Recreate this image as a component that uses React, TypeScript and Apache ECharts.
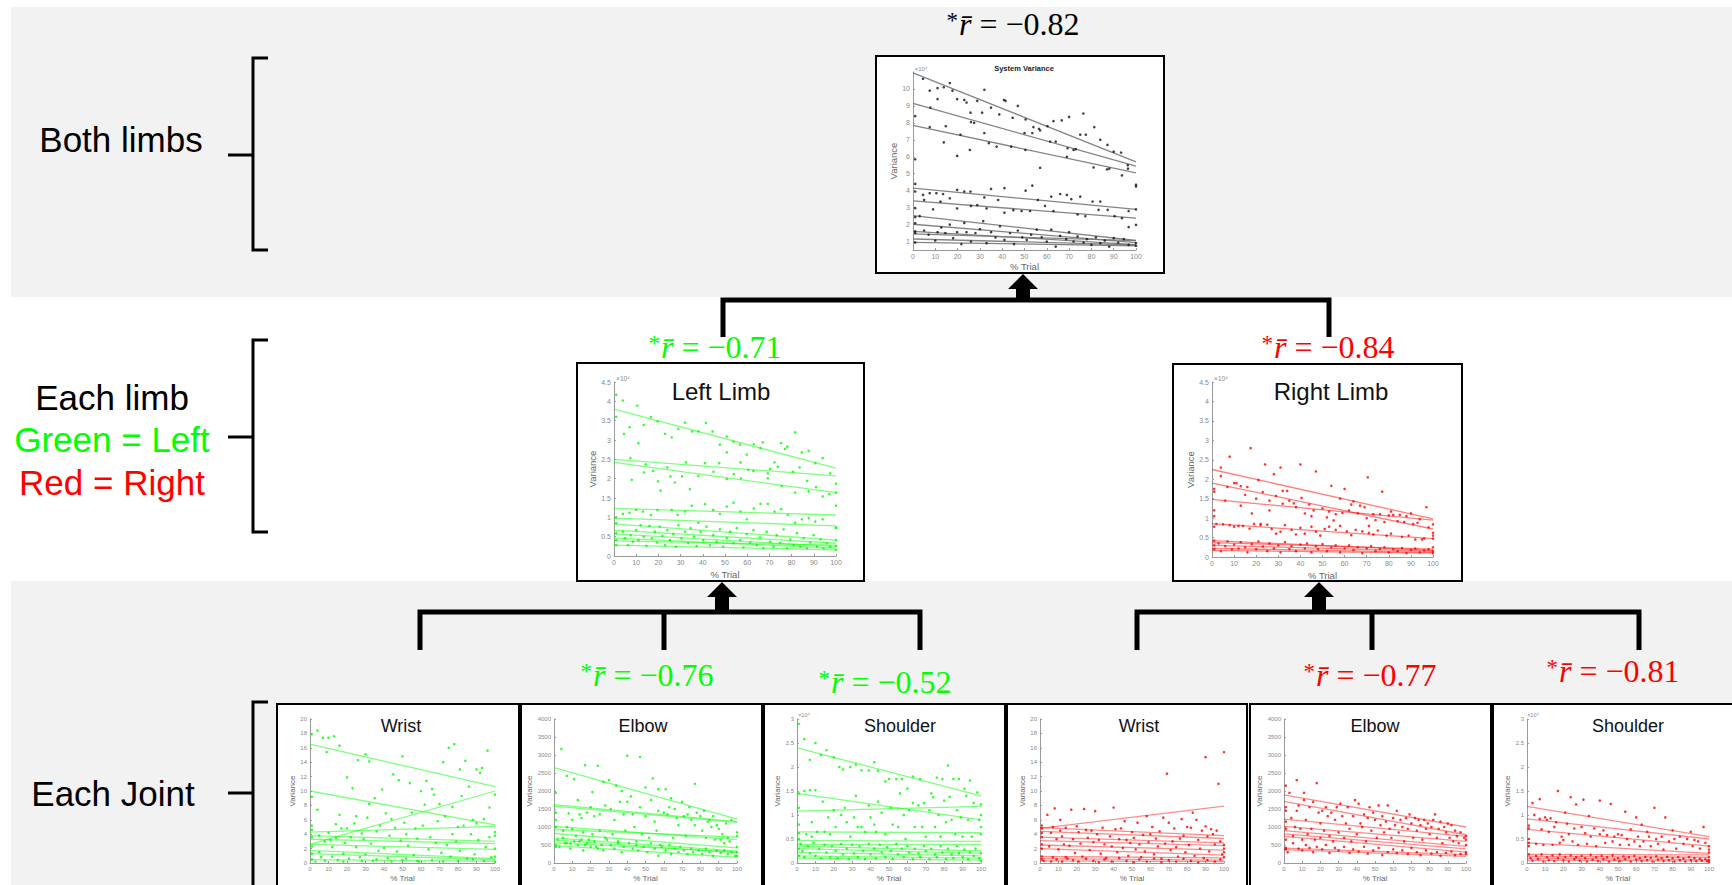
import React, { useEffect, useRef } from "react";
import * as echarts from "echarts";

// ---------- DATA (x = % trial, y = variance) ----------
const SYSTEM_Y_TICKS = [1, 2, 3, 4, 5, 6, 7, 8, 9, 10];

// regression lines: [value at 0 %, value at 100 %]
const SYSTEM_LINES = [[10.95, 5.7], [9.15, 5.45], [7.85, 5.05], [4.15, 2.9], [3.4, 2.38], [2.53, 1.06], [2.02, 0.94], [1.6, 0.82], [1.45, 1.05], [1.15, 0.8], [0.95, 0.75]];
const SYSTEM_PTS = [
  [4.5, 10.6], [7.5, 9.9], [11, 10.05], [13.8, 10.1], [16.5, 10.35], [17.7, 9.9], [11, 9.4], [7.8, 8.9], [19.8, 9.4], [23, 9.35], [24, 9.2], [25.8, 8.6], [27.4, 8.0], [28.8, 9.3], [32, 9.95], [31, 8.6], [35, 8.9], [38.7, 8.5], [40.8, 9.35], [41.5, 9.3], [44.7, 8.3], [47, 9.0], [50.5, 8.2], [54, 7.75], [56.5, 7.65], [60.3, 7.8], [63, 8.1], [66.7, 8.15], [70, 8.35], [76.4, 8.55], [81.3, 7.75], [84, 7.0], [87.2, 6.7], [90, 6.3], [93.3, 6.25], [96.3, 5.5], [96.4, 5.3], [93.7, 4.9], [87, 5.25], [81, 5.37], [77.5, 7.3], [75, 7.3], [73, 6.45], [69.3, 6.5], [69, 6.0], [61.5, 6.9], [57, 5.35], [57, 7.55], [50, 7.4], [50.4, 6.4], [44, 6.6], [37.5, 6.6], [34, 6.8], [32, 7.4], [26, 8.05], [21.3, 7.3], [19.8, 6.05], [14.7, 7.8], [13.8, 6.85], [7.5, 7.75], [1, 8.4], [1, 5.85], [25.5, 6.4], [53.5, 7.4], [64, 6.9], [72, 6.4], [88, 5.3],
  [1, 4.4], [1, 3.95], [4.5, 3.75], [7.5, 3.85], [10.5, 3.85], [13.5, 3.8], [19.8, 4.05], [23, 3.95], [25.8, 3.95], [32, 3.6], [35, 4.1], [41, 4.15], [50.5, 4.0], [53.5, 4.3], [62, 3.65], [66, 3.8], [69, 3.75], [71, 3.5], [75, 3.65], [80.5, 3.36], [84, 3.36], [96.7, 2.8], [100, 4.35], [100, 4.25], [100, 2.9], [5, 3.45], [9, 2.9], [12.3, 3.35], [16.5, 3.55], [19.8, 2.95], [26, 3.1], [28.8, 3.15], [33, 2.95], [38.2, 3.45], [41, 2.7], [45, 2.85], [48.7, 2.8], [52.5, 2.8], [56, 3.45], [59.2, 3.1], [63, 2.8], [73.8, 2.6], [77.3, 2.5], [83.2, 2.87], [87.3, 2.87], [90.4, 2.5], [93.7, 2.38], [96.7, 1.85], [100, 1.98], [1, 2.97], [1, 2.44], [3, 2.5],
  [1, 2.08], [1, 1.6], [1, 1.5], [1, 0.94], [5, 1.65], [7, 1.4], [10, 1.06], [11, 1.55], [12.7, 1.83], [14.5, 1.5], [16.5, 2.0], [18, 1.2], [19.8, 1.55], [21.7, 0.85], [23, 2.1], [24, 1.55], [26, 1.0], [28, 1.5], [30, 1.73], [31.5, 2.2], [33, 0.9], [35, 1.55], [37, 1.24], [39, 1.9], [41, 1.1], [43.5, 1.5], [45.3, 0.85], [47, 1.65], [49, 1.25], [51, 1.1], [53, 1.4], [55.5, 1.7], [57.7, 1.25], [60, 1.0], [62, 1.7], [64, 0.7], [66, 1.33], [68.7, 1.14], [70, 1.55], [72, 1.0], [73.8, 1.3], [76.5, 0.94], [78, 1.14], [80, 0.8], [82, 1.24], [84, 0.9], [86, 1.06], [88, 0.7], [90, 1.2], [92, 0.94], [94.5, 1.14], [96.7, 0.8], [100, 0.9], [100, 0.75]
];

const LEFT_LIMB_LINES = [[3.8, 2.27], [2.5, 2.07], [2.42, 1.64], [1.23, 1.06], [0.98, 0.78], [0.83, 0.41], [0.67, 0.33], [0.57, 0.24], [0.46, 0.2], [0.39, 0.28], [0.28, 0.16]];
const LEFT_LIMB_PTS = [
  [1, 4.17], [1, 3.6], [4, 4.02], [4.5, 3.16], [7, 3.33], [7.4, 2.53], [8, 1.97], [10.5, 3.89], [11, 2.92], [13.4, 3.39], [14.3, 2.37], [13.5, 2.16], [16.6, 3.59], [17.6, 2.2], [19.6, 3.48], [19.8, 1.93], [21, 1.69], [23, 3.16], [24, 2.29], [26, 3.07], [25.4, 2.06], [27.4, 1.9], [29, 3.29], [30.7, 2.06], [32, 3.45], [32.4, 2.42], [34.2, 1.73], [35.2, 3.22], [38, 3.22], [38, 2.07], [41, 2.4], [41.4, 3.44], [44.4, 3.22], [44.8, 2.18], [47.4, 2.4], [47.7, 2.88], [50.8, 3.09], [50.8, 2.68], [50.8, 1.99], [53.8, 2.96], [54, 2.12], [56.8, 2.88], [57, 2.42], [57.2, 2.01], [59.8, 2.62], [60.5, 2.23], [62.8, 2.2], [63, 2.89], [66, 2.79], [67, 2.94], [69.3, 2.14], [69.3, 2.01], [70.3, 2.25], [72.3, 2.42], [73.8, 2.31], [75.3, 2.92], [75.6, 1.81], [77, 2.77], [78, 2.83], [80.6, 2.18], [81.6, 3.2], [81.6, 1.64], [83.6, 2.29], [84.6, 2.68], [87, 1.94], [87.7, 2.72], [87.7, 1.67], [90.7, 2.4], [91, 1.78], [94, 2.53], [94, 1.54], [97, 1.6], [97.4, 2.14], [100, 1.87], [100, 1.64],
  [1, 1.0], [4, 1.09], [7, 1.12], [10, 1.19], [13, 1.15], [16.6, 1.06], [19.6, 1.19], [26, 1.19], [28.6, 1.06], [32, 1.15], [35, 1.3], [38, 0.86], [41, 1.34], [44.7, 1.19], [47.7, 1.09], [50.8, 1.28], [53.8, 1.38], [57, 1.15], [59.8, 0.95], [63, 1.23], [66, 1.35], [69.3, 1.35], [72.3, 1.15], [75.3, 1.21], [78.3, 1.06], [81.6, 0.86], [84.6, 0.95], [87.7, 0.98], [90.7, 0.89], [94, 0.95], [100, 1.3], [100, 0.74], [100, 0.72],
  [1, 0.85], [1, 0.59], [1, 0.41], [1, 0.28], [4, 0.63], [5, 0.46], [6.3, 0.28], [7.5, 0.54], [8.6, 0.37], [10, 0.67], [11, 0.41], [12, 0.8], [13.4, 0.5], [14.6, 0.26], [16, 0.78], [17, 0.46], [18.4, 0.63], [19.4, 0.35], [20.6, 0.76], [21.8, 0.52], [23, 0.28], [24, 0.67], [25.2, 0.41], [26.7, 0.57], [27.9, 0.24], [29, 0.8], [30.4, 0.46], [32, 0.63], [33.4, 0.33], [34.5, 0.72], [36, 0.5], [37.2, 0.26], [39, 0.63], [40.2, 0.41], [41.7, 0.76], [43.2, 0.28], [44.7, 0.54], [46.2, 0.37], [47.7, 0.69], [49.2, 0.24], [50.8, 0.46], [52.3, 0.63], [53.8, 0.33], [55.3, 0.72], [56.8, 0.41], [58.3, 0.22], [59.8, 0.57], [61.3, 0.35], [62.8, 0.67], [64.3, 0.28], [65.8, 0.48], [67.3, 0.2], [68.8, 0.63], [70.3, 0.37], [71.8, 0.24], [73.3, 0.54], [74.8, 0.33], [76.4, 0.69], [78, 0.2], [79.4, 0.43], [80.9, 0.28], [82.4, 0.59], [83.9, 0.24], [85.4, 0.46], [86.9, 0.2], [88.4, 0.35], [89.9, 0.54], [91.4, 0.24], [93, 0.43], [94.4, 0.2], [95.9, 0.33], [97.4, 0.24], [100, 0.41], [100, 0.26], [100, 0.16]
];

const RIGHT_LIMB_LINES = [[2.25, 0.98], [1.9, 0.72], [1.48, 0.95], [0.86, 0.47], [0.42, 0.17], [0.37, 0.2], [0.3, 0.15], [0.22, 0.12], [0.17, 0.1]];
const RIGHT_LIMB_PTS = [
  [1, 1.75], [1, 1.68], [1, 1.05], [1, 1.2], [1, 0.78], [4, 2.08], [4, 2.3], [6, 1.45], [7, 1.8], [8, 2.58], [10, 1.9], [11, 1.9], [13, 1.32], [13, 1.82], [15, 1.6], [16, 1.8], [17.5, 2.8], [18, 1.12], [20, 1.5], [21, 1.98], [22, 0.85], [23, 1.67], [24, 2.38], [26, 1.2], [26, 1.45], [28, 2.13], [29, 1.57], [31, 2.3], [32, 1.7], [32, 1.37], [34, 1.7], [35, 1.45], [37, 1.38], [38, 1.28], [40, 2.38], [40.5, 1.52], [42, 1.12], [44, 1.35], [45, 1.05], [46, 1.2], [47, 2.2], [50, 1.25], [52, 1.02], [53, 1.17], [54, 1.83], [55, 0.94], [56, 1.1], [58, 1.5], [59, 1.13], [60, 1.75], [62, 1.2], [63, 1.35], [64, 1.43], [66, 1.12], [67, 1.32], [69, 1.28], [70, 1.0], [70.5, 2.05], [71, 0.8], [73, 1.1], [74, 0.95], [76, 1.1], [77, 1.68], [78, 0.9], [80, 1.07], [81, 1.17], [82, 1.08], [84, 0.92], [85, 1.08], [87, 0.9], [88, 1.05], [89, 0.55], [90, 1.12], [91, 0.85], [93, 0.88], [94, 0.97], [96, 0.48], [97, 1.28], [98, 0.76], [100, 0.84], [100, 0.62], [100, 0.55], [100, 0.47],
  [2, 0.85], [5, 0.84], [8, 0.82], [10, 0.78], [12, 0.8], [14, 0.8], [17, 0.73], [19, 0.85], [22, 0.82], [25, 0.83], [27, 0.72], [29, 0.6], [31, 0.65], [33, 0.82], [36, 0.7], [38, 0.58], [40, 0.75], [42, 0.6], [45, 0.78], [47, 0.65], [49, 0.55], [51, 0.72], [53, 0.78], [56, 0.7], [58, 0.8], [61, 0.66], [63, 0.56], [65, 0.7], [68, 0.66], [71, 0.62], [73, 0.58], [75, 0.68], [79, 0.55], [81, 0.6], [86, 0.52], [92, 0.45], [95, 0.45],
  [1, 0.42], [1, 0.3], [1, 0.2], [3, 0.35], [4, 0.15], [6, 0.28], [7, 0.4], [9, 0.2], [10, 0.32], [12, 0.22], [13, 0.38], [15, 0.25], [16, 0.12], [18, 0.33], [20, 0.2], [21, 0.4], [23, 0.27], [25, 0.15], [26, 0.35], [28, 0.22], [30, 0.3], [31, 0.12], [33, 0.38], [35, 0.2], [36, 0.28], [38, 0.15], [40, 0.32], [42, 0.22], [43, 0.35], [45, 0.12], [47, 0.28], [48, 0.2], [50, 0.33], [52, 0.15], [54, 0.25], [56, 0.3], [58, 0.12], [60, 0.22], [62, 0.3], [64, 0.18], [66, 0.25], [68, 0.1], [70, 0.22], [72, 0.28], [74, 0.15], [76, 0.2], [78, 0.25], [80, 0.12], [82, 0.2], [84, 0.15], [86, 0.23], [88, 0.1], [90, 0.18], [92, 0.22], [94, 0.12], [96, 0.17], [98, 0.2], [100, 0.15], [100, 0.1], [100, 0.25]
];

const WRIST_L_LINES = [[16.5, 10.6], [10.0, 5.3], [2.6, 10.0], [4.3, 5.1], [3.8, 3.0], [3.3, 2.7], [2.6, 1.9], [1.75, 0.6], [1.3, 0.45], [0.46, 0.23]];
const WRIST_L_PTS = [
  [1, 17.9], [1, 9.2], [1, 5.2], [1, 4.6], [1, 3.6], [1, 2.3], [1, 1.3], [1, 0.5], [4, 18.4], [4, 7.4], [5, 3.8], [6, 0.8], [7, 17.4], [8, 3.0], [8, 0.3], [9, 15.4], [10, 17.4], [10, 4.2], [11, 3.2], [12, 2.2], [12, 0.9], [13, 17.6], [14, 5.4], [14, 3.5], [15, 0.4], [16, 6.7], [16, 16.3], [17, 4.8], [18, 1.3], [19, 2.8], [20, 11.9], [20, 4.8], [21, 0.6], [22, 3.6], [23, 10.4], [24, 5.5], [25, 6.5], [25, 2.2], [26, 14.3], [27, 0.8], [28, 4.1], [29, 3.3], [30, 15.1], [30, 1.2], [31, 6.3], [32, 14.1], [32, 8.2], [33, 2.7], [34, 0.3], [35, 9.0], [36, 4.4], [37, 1.7], [38, 5.2], [39, 10.2], [40, 2.1], [41, 6.9], [42, 0.7], [43, 3.8], [44, 6.1], [45, 12.3], [46, 4.9], [47, 1.6], [48, 11.5], [49, 3.1], [50, 14.8], [50, 0.4], [51, 5.6], [52, 4.0], [53, 2.4], [54, 11.1], [55, 7.0], [56, 1.1], [57, 4.8], [58, 3.4], [59, 0.2], [60, 10.0], [61, 5.2], [62, 8.1], [63, 11.4], [64, 1.9], [65, 3.6], [66, 10.3], [67, 9.5], [68, 2.8], [69, 5.8], [70, 8.2], [71, 1.4], [72, 14.0], [73, 6.5], [74, 2.5], [75, 16.0], [76, 0.9], [77, 7.8], [77, 4.0], [78, 16.5], [79, 3.0], [80, 5.0], [81, 13.0], [81, 1.7], [82, 9.3], [83, 5.2], [84, 14.2], [85, 0.6], [86, 10.6], [87, 4.0], [88, 6.0], [89, 1.2], [90, 13.0], [90, 5.5], [91, 3.2], [92, 12.5], [93, 13.2], [94, 6.1], [95, 2.2], [96, 15.6], [97, 7.7], [97, 3.6], [98, 0.8], [100, 9.5], [100, 4.3], [100, 3.8], [100, 2.0], [100, 0.9], [100, 0.2],
  [3, 0.2], [5, 1.5], [18, 0.2], [28, 0.3], [36, 0.5], [44, 0.2], [52, 0.6], [58, 0.3], [66, 0.4], [72, 0.2], [80, 0.3], [88, 0.5], [94, 0.3]
];

const ELBOW_L_LINES = [[2650, 1220], [1620, 1150], [1580, 1130], [1020, 650], [930, 720], [820, 420], [700, 330], [640, 280], [560, 310], [480, 160]];
const ELBOW_L_PTS = [
  [1, 1950], [1, 1400], [1, 1200], [1, 1000], [1, 500], [1, 450], [4, 3170], [5, 900], [6, 550], [7, 2420], [7, 1000], [8, 1380], [9, 550], [10, 950], [10, 1200], [11, 2330], [12, 750], [13, 1750], [14, 600], [14, 1350], [15, 1250], [16, 850], [17, 2720], [17, 500], [18, 1400], [19, 650], [20, 1550], [21, 1970], [21, 800], [22, 1300], [23, 450], [24, 2700], [25, 1350], [25, 900], [27, 2250], [28, 1600], [28, 700], [30, 2300], [31, 1500], [32, 800], [33, 1200], [34, 2150], [35, 600], [36, 1700], [37, 2000], [38, 1350], [39, 900], [40, 2980], [40, 1700], [42, 1850], [43, 1350], [44, 1000], [45, 600], [47, 2950], [47, 1550], [48, 800], [50, 2100], [50, 1300], [52, 700], [53, 1750], [54, 2350], [55, 1150], [56, 900], [57, 2050], [57, 1450], [58, 500], [60, 1400], [61, 2050], [62, 1350], [63, 1550], [64, 1800], [65, 700], [66, 1500], [67, 1250], [68, 1050], [70, 1700], [71, 1300], [72, 750], [73, 1350], [74, 1550], [75, 1200], [77, 2200], [77, 1050], [78, 1400], [80, 1300], [81, 900], [82, 1450], [83, 700], [84, 1150], [85, 1200], [86, 1000], [87, 1300], [88, 650], [89, 1050], [90, 950], [91, 650], [92, 800], [93, 550], [94, 1100], [95, 700], [96, 600], [97, 1200], [100, 850], [100, 750], [100, 450], [100, 300], [100, 200],
  [2, 650], [3, 450], [5, 700], [7, 550], [9, 400], [11, 600], [13, 500], [15, 650], [16, 350], [18, 550], [20, 450], [22, 600], [24, 400], [26, 500], [27, 350], [29, 650], [31, 500], [33, 400], [35, 550], [37, 300], [38, 450], [41, 550], [43, 400], [45, 500], [46, 350], [49, 450], [51, 300], [53, 550], [55, 400], [57, 200], [59, 450], [61, 350], [63, 500], [64, 250], [66, 400], [68, 300], [69, 450], [71, 350], [73, 250], [75, 400], [76, 300], [79, 350], [81, 250], [83, 400], [85, 300], [87, 200], [89, 350], [91, 280], [93, 350], [95, 250], [97, 300], [99, 200]
];

const SHOULDER_L_LINES = [[2.4, 1.4], [1.45, 0.9], [1.08, 1.18], [0.65, 0.63], [0.47, 0.45], [0.4, 0.4], [0.35, 0.25], [0.3, 0.2], [0.22, 0.15], [0.15, 0.1], [0.1, 0.06]];
const SHOULDER_L_PTS = [
  [1, 2.9], [1, 1.45], [1, 1.15], [1, 0.8], [1, 0.62], [1, 0.5], [1, 0.3], [1, 0.15], [4, 2.58], [4, 1.5], [5, 0.6], [7, 2.15], [7, 1.52], [8, 0.85], [8, 0.55], [10, 2.5], [10, 1.52], [11, 0.65], [13, 2.25], [14, 1.28], [15, 0.65], [16, 2.35], [17, 0.95], [18, 0.6], [20, 2.2], [20, 1.1], [21, 0.75], [23, 2.0], [24, 1.0], [25, 1.95], [26, 1.15], [27, 0.85], [29, 2.0], [29, 0.55], [31, 0.95], [32, 2.05], [32, 1.4], [33, 0.75], [35, 1.93], [35, 0.75], [37, 0.65], [39, 1.93], [39, 1.2], [40, 0.95], [42, 2.1], [42, 0.8], [43, 0.65], [44, 1.92], [44, 1.28], [46, 1.05], [48, 1.7], [48, 0.6], [50, 1.75], [51, 1.15], [52, 0.8], [54, 1.75], [55, 0.75], [56, 1.45], [57, 1.75], [58, 1.0], [59, 0.5], [60, 1.55], [61, 1.1], [63, 1.8], [63, 1.25], [64, 0.75], [66, 1.2], [67, 1.75], [68, 0.75], [69, 1.25], [70, 0.55], [72, 1.1], [73, 1.45], [74, 1.37], [75, 0.75], [76, 1.78], [77, 1.0], [78, 0.55], [79, 1.75], [80, 1.3], [81, 0.85], [82, 2.03], [83, 1.38], [84, 0.9], [85, 1.75], [86, 0.6], [87, 1.1], [88, 1.75], [89, 0.95], [90, 0.55], [91, 1.55], [92, 1.4], [93, 0.9], [94, 1.72], [95, 0.55], [96, 1.25], [98, 1.47], [99, 0.9], [100, 1.22], [100, 1.0], [100, 0.75], [100, 0.6],
  [2, 0.4], [3, 0.25], [4, 0.12], [6, 0.35], [7, 0.2], [9, 0.42], [10, 0.15], [12, 0.3], [13, 0.1], [15, 0.38], [16, 0.22], [18, 0.12], [19, 0.35], [21, 0.25], [22, 0.1], [24, 0.4], [25, 0.18], [27, 0.3], [28, 0.08], [30, 0.38], [31, 0.2], [33, 0.12], [34, 0.35], [36, 0.25], [37, 0.08], [39, 0.4], [40, 0.18], [42, 0.3], [43, 0.1], [45, 0.38], [46, 0.22], [48, 0.12], [49, 0.33], [51, 0.25], [52, 0.08], [54, 0.4], [55, 0.18], [57, 0.3], [58, 0.12], [60, 0.35], [61, 0.22], [63, 0.08], [64, 0.3], [66, 0.2], [67, 0.12], [69, 0.35], [70, 0.25], [72, 0.08], [73, 0.3], [75, 0.18], [76, 0.12], [78, 0.35], [79, 0.22], [81, 0.08], [82, 0.3], [84, 0.18], [85, 0.1], [87, 0.35], [88, 0.2], [90, 0.12], [91, 0.28], [93, 0.08], [94, 0.22], [96, 0.15], [97, 0.3], [99, 0.1], [100, 0.2], [100, 0.05]
];

const WRIST_R_LINES = [[4.8, 7.9], [4.9, 3.8], [4.4, 3.4], [3.6, 2.8], [3.1, 2.4], [2.5, 1.8], [2.0, 1.1], [0.9, 0.7], [0.6, 0.4], [0.3, 0.2]];
const WRIST_R_PTS = [
  [1, 5.2], [1, 4.8], [1, 4.2], [1, 3.6], [1, 2.6], [1, 2.0], [1, 0.9], [1, 0.5], [4, 6.7], [5, 2.3], [6, 4.2], [7, 5.0], [7, 0.8], [8, 7.6], [9, 3.3], [10, 1.9], [11, 6.0], [11, 4.5], [12, 3.7], [13, 2.6], [14, 4.9], [15, 0.6], [16, 2.4], [17, 7.4], [18, 3.3], [19, 1.4], [20, 5.1], [21, 4.3], [22, 2.7], [23, 0.9], [24, 7.5], [25, 4.6], [26, 3.5], [27, 1.8], [28, 4.5], [29, 2.9], [30, 7.2], [31, 4.0], [32, 3.2], [33, 1.3], [34, 4.9], [35, 2.6], [36, 0.7], [38, 3.7], [39, 2.3], [40, 7.7], [41, 4.7], [42, 1.5], [43, 3.3], [44, 4.8], [45, 2.1], [46, 5.8], [47, 3.2], [48, 1.0], [49, 2.8], [50, 4.3], [51, 3.5], [52, 1.9], [53, 5.6], [54, 2.6], [55, 0.8], [56, 3.9], [57, 1.6], [58, 6.5], [59, 2.9], [60, 4.0], [61, 5.0], [62, 1.2], [63, 3.4], [64, 2.3], [65, 4.4], [66, 0.6], [67, 6.3], [68, 2.7], [69, 12.4], [70, 5.6], [71, 1.8], [72, 3.0], [73, 4.8], [74, 2.2], [75, 0.9], [76, 3.4], [77, 6.1], [78, 3.8], [79, 1.5], [80, 5.0], [81, 2.5], [82, 4.9], [83, 7.0], [84, 1.0], [85, 6.0], [86, 3.2], [87, 2.0], [88, 4.5], [89, 0.7], [90, 14.7], [90, 5.1], [91, 3.7], [92, 1.6], [93, 4.7], [94, 4.0], [95, 2.6], [96, 4.5], [97, 11.0], [98, 3.0], [99, 1.2], [100, 15.4], [100, 2.5], [100, 2.0], [100, 1.5], [100, 0.8],
  [2, 0.3], [6, 0.2], [9, 0.5], [12, 0.2], [14, 0.8], [18, 0.4], [21, 0.2], [25, 0.6], [29, 0.3], [32, 0.1], [35, 0.5], [39, 0.2], [43, 0.7], [47, 0.3], [51, 0.1], [54, 0.5], [58, 0.2], [62, 0.6], [66, 0.1], [70, 0.4], [74, 0.2], [78, 0.6], [82, 0.3], [86, 0.1], [91, 0.4], [95, 0.2], [98, 0.5]
];

const ELBOW_R_LINES = [[1890, 1000], [1710, 785], [1220, 740], [1015, 600], [900, 460], [810, 390], [740, 300], [415, 230], [370, 185]];
const ELBOW_R_PTS = [
  [1, 2150], [1, 1550], [1, 1450], [1, 1150], [1, 950], [1, 650], [1, 420], [1, 380], [3, 1950], [4, 1250], [5, 750], [6, 1000], [7, 1450], [7, 2300], [8, 1600], [9, 950], [10, 650], [11, 1950], [11, 1750], [12, 1200], [13, 800], [14, 1550], [15, 950], [16, 1700], [17, 650], [18, 2220], [19, 1400], [20, 700], [20, 1100], [21, 1450], [22, 900], [23, 1550], [24, 1300], [25, 750], [26, 1400], [27, 600], [28, 1200], [29, 1550], [30, 850], [31, 1650], [32, 1300], [33, 700], [34, 1100], [35, 1550], [36, 950], [37, 600], [38, 1300], [39, 1750], [40, 800], [41, 1650], [42, 1100], [43, 1000], [44, 1350], [45, 600], [46, 1250], [47, 1550], [48, 900], [49, 1400], [50, 1200], [51, 700], [52, 1600], [53, 1050], [54, 1300], [55, 850], [56, 1150], [57, 1600], [58, 950], [59, 700], [60, 1250], [61, 1050], [62, 1450], [63, 850], [64, 1200], [65, 1000], [66, 600], [67, 1250], [68, 950], [69, 1350], [70, 1100], [71, 700], [72, 1250], [73, 900], [74, 1200], [75, 1050], [76, 650], [77, 1200], [78, 950], [79, 1100], [80, 800], [81, 1000], [82, 1200], [83, 1350], [84, 700], [85, 950], [86, 1150], [87, 550], [88, 1000], [89, 850], [90, 1100], [91, 700], [92, 1050], [93, 600], [94, 900], [95, 750], [96, 550], [97, 850], [99, 700], [100, 750], [100, 650], [100, 500], [100, 300], [100, 250],
  [2, 300], [5, 550], [8, 400], [10, 350], [12, 500], [14, 420], [16, 300], [18, 450], [21, 380], [23, 500], [25, 280], [28, 420], [30, 350], [33, 450], [36, 280], [38, 380], [41, 320], [44, 450], [46, 260], [49, 350], [52, 420], [54, 220], [57, 300], [60, 380], [62, 280], [65, 350], [68, 250], [70, 420], [73, 300], [75, 220], [78, 350], [81, 260], [84, 300], [86, 200], [89, 280], [92, 320], [94, 220], [97, 250]
];

const SHOULDER_R_LINES = [[1.18, 0.55], [0.92, 0.5], [0.7, 0.35], [0.42, 0.2], [0.18, 0.17], [0.14, 0.12], [0.1, 0.07], [0.06, 0.04]];
const SHOULDER_R_PTS = [
  [1, 0.78], [1, 0.72], [1, 0.5], [1, 0.42], [1, 0.35], [3, 1.25], [4, 1.0], [5, 0.4], [7, 0.92], [7, 1.33], [8, 0.7], [9, 0.38], [10, 0.95], [11, 0.9], [12, 0.65], [13, 0.93], [14, 0.38], [15, 0.75], [16, 0.85], [17, 1.5], [18, 0.42], [19, 0.55], [20, 0.48], [21, 1.05], [22, 0.82], [23, 0.6], [24, 1.37], [25, 0.45], [26, 0.72], [27, 1.22], [28, 0.38], [30, 0.75], [31, 1.32], [32, 0.62], [33, 0.4], [34, 0.98], [35, 0.55], [37, 0.72], [38, 0.35], [40, 1.3], [40, 0.6], [42, 0.68], [43, 0.42], [44, 0.58], [46, 1.23], [47, 0.45], [48, 0.55], [50, 0.6], [51, 0.38], [52, 0.58], [54, 1.07], [55, 0.5], [56, 0.38], [57, 0.7], [59, 0.45], [60, 0.95], [61, 0.55], [62, 0.35], [63, 0.8], [64, 0.45], [66, 0.65], [67, 0.55], [68, 0.35], [70, 1.15], [71, 0.5], [72, 0.4], [74, 0.55], [75, 0.28], [76, 0.95], [78, 0.45], [80, 0.68], [81, 0.5], [82, 0.3], [84, 0.55], [86, 0.4], [88, 0.5], [90, 0.65], [91, 0.35], [92, 0.48], [94, 0.45], [95, 0.3], [97, 0.75], [98, 0.42], [100, 0.35], [100, 0.28], [100, 0.22],
  [1, 0.18], [2, 0.1], [3, 0.05], [5, 0.15], [6, 0.08], [8, 0.18], [9, 0.03], [11, 0.12], [12, 0.06], [14, 0.16], [15, 0.04], [17, 0.1], [18, 0.18], [20, 0.06], [21, 0.13], [23, 0.03], [24, 0.16], [26, 0.08], [27, 0.12], [29, 0.05], [30, 0.15], [32, 0.1], [33, 0.03], [35, 0.17], [36, 0.07], [38, 0.12], [39, 0.04], [41, 0.15], [42, 0.08], [44, 0.12], [45, 0.03], [47, 0.16], [48, 0.07], [50, 0.1], [51, 0.04], [53, 0.14], [54, 0.08], [56, 0.12], [57, 0.03], [59, 0.15], [60, 0.07], [62, 0.1], [63, 0.04], [65, 0.13], [66, 0.06], [68, 0.11], [69, 0.03], [71, 0.14], [72, 0.07], [74, 0.1], [75, 0.04], [77, 0.13], [78, 0.06], [80, 0.1], [81, 0.03], [83, 0.12], [84, 0.06], [86, 0.09], [87, 0.03], [89, 0.12], [90, 0.06], [92, 0.1], [93, 0.04], [95, 0.09], [96, 0.05], [98, 0.08], [99, 0.04], [100, 0.12], [100, 0.06], [100, 0.02]
];

// correlation annotations
const R_TEXTS = [
  { label: "\u22120.82", who: "system" },
  { label: "\u22120.71", who: "left" },
  { label: "\u22120.84", who: "right" },
  { label: "\u22120.76", who: "elbowL" },
  { label: "\u22120.52", who: "shoulderL" },
  { label: "\u22120.77", who: "elbowR" },
  { label: "\u22120.81", who: "shoulderR" },
];

// ---------- STYLE ----------
const GREEN = "#00ff00";
const RED = "#ff0000";
const SANS = "Liberation Sans, Arial, sans-serif";
const SERIF = "Liberation Serif, Times New Roman, serif";

type Panel = {
  pts: number[][]; lines: number[][]; dot: string; line: string; lineOpacity: number;
  grid: { left: number; top: number; width: number; height: number };
  ymin: number; ymax: number; yint?: number; yticks?: number[];
  tick: number; name: number; xGap: number; yGap: number;
};

const PANELS: Panel[] = [
  { pts: SYSTEM_PTS, lines: SYSTEM_LINES, dot: "#111", line: "#777", lineOpacity: 0.9, grid: { left: 913, top: 72, width: 223, height: 178 }, ymin: 0.5, ymax: 11, yticks: SYSTEM_Y_TICKS, tick: 7, name: 9.5, xGap: 11, yGap: 10 },
  { pts: LEFT_LIMB_PTS, lines: LEFT_LIMB_LINES, dot: GREEN, line: GREEN, lineOpacity: 0.5, grid: { left: 614, top: 382, width: 222, height: 174 }, ymin: 0, ymax: 4.5, yint: 0.5, tick: 7, name: 9.5, xGap: 13, yGap: 15 },
  { pts: RIGHT_LIMB_PTS, lines: RIGHT_LIMB_LINES, dot: RED, line: RED, lineOpacity: 0.5, grid: { left: 1212, top: 382, width: 221, height: 175 }, ymin: 0, ymax: 4.5, yint: 0.5, tick: 7, name: 9.5, xGap: 13, yGap: 15 },
  { pts: WRIST_L_PTS, lines: WRIST_L_LINES, dot: GREEN, line: GREEN, lineOpacity: 0.5, grid: { left: 310, top: 719, width: 185, height: 144 }, ymin: 0, ymax: 20, yint: 2, tick: 6, name: 8, xGap: 11, yGap: 11 },
  { pts: ELBOW_L_PTS, lines: ELBOW_L_LINES, dot: GREEN, line: GREEN, lineOpacity: 0.5, grid: { left: 554, top: 719, width: 183, height: 144 }, ymin: 0, ymax: 4000, yint: 500, tick: 6, name: 8, xGap: 11, yGap: 19 },
  { pts: SHOULDER_L_PTS, lines: SHOULDER_L_LINES, dot: GREEN, line: GREEN, lineOpacity: 0.5, grid: { left: 797, top: 719, width: 184, height: 144 }, ymin: 0, ymax: 3, yint: 0.5, tick: 6, name: 8, xGap: 11, yGap: 13 },
  { pts: WRIST_R_PTS, lines: WRIST_R_LINES, dot: RED, line: RED, lineOpacity: 0.45, grid: { left: 1040, top: 719, width: 184, height: 144 }, ymin: 0, ymax: 20, yint: 2, tick: 6, name: 8, xGap: 11, yGap: 11 },
  { pts: ELBOW_R_PTS, lines: ELBOW_R_LINES, dot: RED, line: RED, lineOpacity: 0.45, grid: { left: 1284, top: 719, width: 182, height: 144 }, ymin: 0, ymax: 4000, yint: 500, tick: 6, name: 8, xGap: 11, yGap: 19 },
  { pts: SHOULDER_R_PTS, lines: SHOULDER_R_LINES, dot: RED, line: RED, lineOpacity: 0.45, grid: { left: 1527, top: 719, width: 182, height: 144 }, ymin: 0, ymax: 3, yint: 0.5, tick: 6, name: 8, xGap: 11, yGap: 13 },
];

const R_POS: Record<string, { x: number; y: number; color: string; size: number }> = {
  system: { x: 1013, y: 24, color: "#000", size: 32 },
  left: { x: 715, y: 347, color: GREEN, size: 32 },
  right: { x: 1328, y: 347, color: RED, size: 32 },
  elbowL: { x: 647, y: 675, color: GREEN, size: 32 },
  shoulderL: { x: 885, y: 682, color: GREEN, size: 32 },
  elbowR: { x: 1370, y: 675, color: RED, size: 32 },
  shoulderR: { x: 1613, y: 671, color: RED, size: 32 },
};

function rText(label: string, p: { x: number; y: number; color: string; size: number }) {
  const base = { fill: p.color, fontFamily: SERIF, fontSize: p.size };
  return {
    type: "text", x: p.x, y: p.y, z: 10,
    style: {
      text: `{s|*}{r|r\u0304}{n| = ${label}}`,
      align: "center", verticalAlign: "middle", fill: p.color, fontFamily: SERIF, fontSize: p.size,
      rich: {
        s: { ...base, fontSize: p.size * 0.72, verticalAlign: "top", padding: [0, 1, 8, 0] },
        r: { ...base, fontStyle: "italic" },
        n: { ...base },
      },
    },
  };
}

function txt(x: number, y: number, text: string, size: number, color = "#000", extra: any = {}) {
  return { type: "text", x, y, z: 10, style: { text, fill: color, fontSize: size, fontFamily: SANS, align: "center", verticalAlign: "middle", ...extra } };
}

function poly(points: number[][], w: number) {
  return { type: "polyline", z: 5, shape: { points }, style: { stroke: "#000", lineWidth: w, fill: null, lineJoin: "miter", lineCap: "butt" } };
}

function arrow(cx: number, tip: number, base: number) {
  const hw = 15, sw = 7, hb = tip + 15;
  return { type: "polygon", z: 6, shape: { points: [[cx, tip], [cx + hw, hb], [cx + sw, hb], [cx + sw, base], [cx - sw, base], [cx - sw, hb], [cx - hw, hb]] }, style: { fill: "#000" } };
}

function box(x1: number, y1: number, x2: number, y2: number) {
  return { type: "rect", z: -20, shape: { x: x1, y: y1, width: x2 - x1, height: y2 - y1 }, style: { fill: "#fff", stroke: "#000", lineWidth: 2 } };
}

export default function App() {
  const ref = useRef<HTMLDivElement>(null);
  useEffect(() => {
    if (!ref.current) return;
    const chart = echarts.init(ref.current, null, { renderer: "svg" });

    const grids = PANELS.map((p) => ({ ...p.grid, containLabel: false, outerBoundsMode: "none", show: false }));
    const axisCommon = (p: Panel) => ({
      axisLine: { show: true, onZero: false, lineStyle: { color: "#9a9a9a", width: 1 } },
      axisTick: { show: true, inside: true, length: 2, lineStyle: { color: "#9a9a9a" } },
      splitLine: { show: false },
      nameTextStyle: { fontSize: p.name, color: "#666", fontFamily: SANS },
    });
    const xAxes = PANELS.map((p, i) => ({
      ...axisCommon(p), gridIndex: i, type: "value", min: 0, max: 100, interval: 10,
      name: "% Trial", nameLocation: "middle", nameGap: p.xGap,
      axisLabel: { fontSize: p.tick, color: "#8a8a8a", margin: 3, fontFamily: SANS },
    }));
    const yAxes = PANELS.map((p, i) => {
      const ax: any = {
        ...axisCommon(p), gridIndex: i, type: "value", min: p.ymin, max: p.ymax,
        name: "Variance", nameLocation: "middle", nameGap: p.yGap,
        axisLabel: { fontSize: p.tick, color: "#8a8a8a", margin: 3, fontFamily: SANS, formatter: (v: number) => String(v) },
      };
      if (p.yticks) {
        ax.axisLabel.customValues = p.yticks;
        ax.axisTick.customValues = p.yticks;
      } else {
        ax.interval = p.yint;
      }
      return ax;
    });
    const series: any[] = [];
    PANELS.forEach((p, i) => {
      series.push({
        type: "lines", coordinateSystem: "cartesian2d", xAxisIndex: i, yAxisIndex: i, silent: true,
        data: p.lines.map(([a, b]) => ({ coords: [[0, a], [100, b]] })),
        lineStyle: { color: p.line, width: 1.3, opacity: p.lineOpacity },
      });
      series.push({
        type: "scatter", xAxisIndex: i, yAxisIndex: i, silent: true, symbol: "circle", symbolSize: 2.6,
        data: p.pts, itemStyle: { color: p.dot },
      });
    });

    const graphic: any[] = [
      // background bands
      { type: "rect", z: -30, shape: { x: 11, y: 7, width: 1721, height: 290 }, style: { fill: "#f2f2f2" } },
      { type: "rect", z: -30, shape: { x: 11, y: 581, width: 1721, height: 304 }, style: { fill: "#f2f2f2" } },
      // figure frames
      box(876, 56, 1164, 273),
      box(577, 363, 864, 581),
      box(1173, 364, 1462, 581),
      box(277, 704, 519, 892),
      box(521, 704, 762, 892),
      box(764, 704, 1005, 892),
      box(1007, 704, 1247, 892),
      box(1250, 704, 1491, 892),
      box(1493, 704, 1740, 892),
      // left labels
      txt(121, 139, "Both limbs", 35),
      txt(112, 397, "Each limb", 35),
      txt(112, 439, "Green = Left", 35, GREEN),
      txt(112, 482, "Red = Right", 35, RED),
      txt(113, 793, "Each Joint", 35),
      // brackets
      poly([[268, 58], [253, 58], [253, 250], [268, 250]], 3),
      poly([[228, 155], [253, 155]], 3),
      poly([[268, 340], [253, 340], [253, 532], [268, 532]], 3),
      poly([[228, 437], [253, 437]], 3),
      poly([[268, 702], [253, 702], [253, 900]], 3),
      poly([[228, 793], [253, 793]], 3),
      // hierarchy connectors
      poly([[723, 337], [723, 300], [1329, 300], [1329, 337]], 5),
      arrow(1023, 274, 301),
      poly([[420, 650], [420, 612], [920, 612], [920, 650]], 5),
      poly([[664, 612], [664, 650]], 5),
      arrow(722, 582, 613),
      poly([[1137, 650], [1137, 612], [1639, 612], [1639, 650]], 5),
      poly([[1372, 612], [1372, 650]], 5),
      arrow(1319, 582, 613),
      // panel titles
      txt(1024, 68, "System Variance", 7.5, "#222", { fontWeight: "bold" }),
      txt(721, 391, "Left Limb", 24, "#111"),
      txt(1331, 391, "Right Limb", 24, "#111"),
      txt(401, 726, "Wrist", 18, "#111"),
      txt(643, 726, "Elbow", 18, "#111"),
      txt(900, 726, "Shoulder", 18, "#111"),
      txt(1139, 726, "Wrist", 18, "#111"),
      txt(1375, 726, "Elbow", 18, "#111"),
      txt(1628, 726, "Shoulder", 18, "#111"),
      // exponent labels
      txt(921, 69, "\u00d710\u2074", 6, "#888"),
      txt(623, 378, "\u00d710\u2074", 6.5, "#888"),
      txt(1221, 378, "\u00d710\u2074", 6.5, "#888"),
      txt(804, 715, "\u00d710\u2074", 5.5, "#888"),
      txt(1533, 715, "\u00d710\u2074", 5.5, "#888"),
      ...R_TEXTS.map((r) => rText(r.label, R_POS[r.who])),
    ];

    chart.setOption({
      animation: false,
      backgroundColor: "#ffffff",
      grid: grids,
      xAxis: xAxes,
      yAxis: yAxes,
      series,
      graphic,
    });
    return () => chart.dispose();
  }, []);
  return <div ref={ref} style={{ position: "fixed", left: 0, top: 0, width: 1732, height: 885 }} />;
}
